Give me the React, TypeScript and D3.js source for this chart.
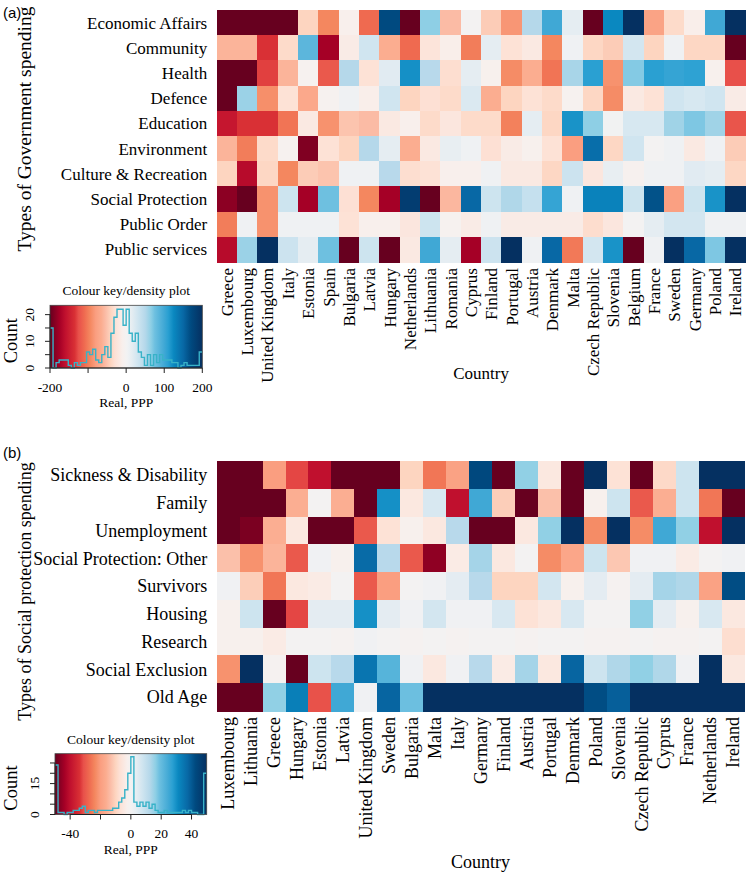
import React from "react";
import * as d3 from "d3";

// panel (a): government spending, values in real PPP (-200..200)
const govCategories = ["Economic Affairs", "Community", "Health", "Defence", "Education", "Environment", "Culture & Recreation", "Social Protection", "Public Order", "Public services"];
const govCountries = ["Greece", "Luxembourg", "United Kingdom", "Italy", "Estonia", "Spain", "Bulgaria", "Latvia", "Hungary", "Netherlands", "Lithuania", "Romania", "Cyprus", "Finland", "Portugal", "Austria", "Denmark", "Malta", "Czech Republic", "Slovenia", "Belgium", "France", "Sweden", "Germany", "Poland", "Ireland"];

const govEconomic = [-200, -200, -200, -200, -40, -95, -10, -110, 170, -200, 65, -55, 0, -45, -85, 50, 100, 15, -200, 125, 200, -75, -35, -12, 100, 200];
const govCommunity = [-60, -60, -135, -35, 85, -175, -15, 30, -65, -110, -25, -12, -100, 15, -28, -18, -95, 5, -38, -45, 28, -40, 5, -38, -38, -200];
const govHealth = [-200, -200, -130, -60, -5, -120, 50, -28, 18, 120, 48, -32, 15, -8, -92, -65, -105, 55, 110, -88, 68, 110, 105, 108, -8, -125];
const govDefence = [-200, 60, -90, -28, -70, -5, 5, -12, 30, -40, -30, -35, 22, -65, -40, -28, -35, -5, -38, -92, -18, -28, 30, 25, 30, -15];
const govEducation = [-155, -135, -135, -105, -18, -88, -50, -55, -18, -10, -35, -22, -35, -35, -98, 15, -38, 118, 65, 2, 25, 25, 58, 70, 58, -122];
const govEnvironment = [-60, -100, -35, -5, -190, -28, -40, 50, 15, -65, -18, 12, 5, -30, -15, -8, -28, -80, 145, -38, 30, 0, 5, -18, 5, -45];
const govCulture = [-40, -165, -38, -95, -45, -50, 5, 5, 48, -32, -28, -10, -10, 5, -18, -18, -38, 33, -22, 12, -6, 5, 5, 18, 15, -38];
const govSocial = [-185, -200, -88, 32, -175, 75, -30, -95, -175, 185, -200, -58, 150, 32, 52, 38, 105, 5, 130, 130, 32, 165, -78, 32, 118, 200];
const govOrder = [-100, 5, -88, 5, 5, 5, -28, -10, -10, -22, 32, -5, -15, 5, -15, -15, -15, -15, -33, -22, 0, 15, 28, 28, 5, 5];
const govServices = [-165, 60, 200, 33, 15, 75, -200, 32, -200, -18, 100, 15, -175, 33, 200, 5, 150, -102, 28, 118, -200, 5, 200, 150, 70, 200];

// histogram of panel (a) values, 50 bins over -200..200
const govKeyCounts = [15, 0, 2, 3, 3, 3, 1, 0, 2, 1, 2, 2, 6, 5, 7, 3, 2, 5, 8, 4, 13, 19, 22, 22, 16, 22, 13, 10, 13, 6, 4, 1, 5, 1, 5, 2, 5, 3, 3, 3, 2, 2, 0, 1, 2, 1, 1, 1, 1, 6];

// panel (b): social protection spending, values -50..50
const socCategories = ["Sickness & Disability", "Family", "Unemployment", "Social Protection: Other", "Survivors", "Housing", "Research", "Social Exclusion", "Old Age"];
const socCountries = ["Luxembourg", "Lithuania", "Greece", "Hungary", "Estonia", "Latvia", "United Kingdom", "Sweden", "Bulgaria", "Malta", "Italy", "Germany", "Finland", "Austria", "Portugal", "Denmark", "Poland", "Slovenia", "Czech Republic", "Cyprus", "France", "Netherlands", "Ireland"];

const socSickness = [-50, -50, -20, -32, -40, -50, -50, -50, -10, -26, -19, 43, -50, 16, -5, -50, 50, -7, -50, -9, 8, 50, 50];
const socFamily = [-50, -50, -50, -16, 0, -16, -50, 30, -5, 6, -40, 25, -11, -50, -13, -50, -2, 8, -30, -16, 8, -26, -50];
const socUnemployment = [-50, -48, -16, -5, -50, -50, -30, -7, -2, -5, 12, -50, -50, -5, 16, 50, -23, 50, -23, 25, 16, -40, 50];
const socOther = [-13, -22, -15, -30, 1, -2, 37, 12, -30, -46, -4, 14, -5, 0, -23, -18, 8, -12, 1, 1, -4, 0, 1];
const socSurvivors = [1, -11, -26, -5, -4, 0, -30, -20, 0, 1, 4, 12, -10, -10, 7, -2, 4, -1, 4, 14, 13, -19, 42];
const socHousing = [-2, 8, -50, -32, 4, 4, 30, 4, 1, 7, 1, 1, 6, -7, -5, 6, 0, 0, 16, 4, -2, 6, -5];
const socResearch = [-2, -2, -4, 0, 0, -1, 1, 0, -1, 0, -1, 0, 0, -1, 0, 0, -1, -1, 0, -1, -1, 0, -8];
const socExclusion = [-22, 50, -1, -50, 8, 12, 35, 22, 1, -5, 1, 12, -4, 14, -5, 38, 8, 13, 16, 13, 1, 50, -5];
const socOldAge = [-50, -50, 16, 33, -31, 25, 1, 38, 19, 50, 50, 50, 50, 50, 50, 50, 42, 39, 50, 50, 50, 50, 50];

// histogram of panel (b) values, 50 bins over -50..50
const socKeyCounts = [24, 1, 1, 0, 1, 1, 2, 2, 3, 4, 1, 2, 2, 1, 2, 2, 2, 2, 2, 3, 3, 6, 8, 12, 20, 28, 6, 4, 6, 4, 6, 3, 5, 2, 1, 1, 2, 1, 1, 1, 1, 1, 2, 1, 2, 1, 1, 0, 0, 20];

const govMatrix = [govEconomic, govCommunity, govHealth, govDefence, govEducation, govEnvironment, govCulture, govSocial, govOrder, govServices];
const socMatrix = [socSickness, socFamily, socUnemployment, socOther, socSurvivors, socHousing, socResearch, socExclusion, socOldAge];

// red - white - blue ramp, positions on 0..1
const rampStops = [0, 0.0625, 0.1, 0.1625, 0.1875, 0.225, 0.2625, 0.3, 0.3375, 0.3625, 0.4, 0.425, 0.475, 0.5, 0.5125, 0.5375, 0.575, 0.625, 0.6625, 0.6875, 0.75, 0.775, 0.8125, 0.875, 0.925, 1];
const rampColours = ["#67001f", "#a50026", "#c0102e", "#d93035", "#e8504a", "#ef6a50", "#f4875f", "#fa9e80", "#fbad90", "#fbbba5", "#fdd5c0", "#fde0d4", "#f8efec", "#f3f2f2", "#eff1f3", "#e5edf2", "#d0e5f0", "#b5d8ea", "#8ecfe5", "#6ec0e0", "#40a8d5", "#2aa0d2", "#0a88c0", "#0868a5", "#004a80", "#053061"];
const ramp = d3.scaleLinear<string>().domain(rampStops).range(rampColours).interpolate(d3.interpolateRgb).clamp(true);

const serif = "'Liberation Serif', 'Times New Roman', Times, serif";
const sans = "'Liberation Sans', Arial, Helvetica, sans-serif";
const histColour = "#38b2c8";

function Heatmap({ rows, cols, matrix, domain, box, font, title, titleSize, titleY, tag, tagY, countryY }) {
  const x = d3.scaleBand().domain(cols).range([box.x0, box.x1]);
  const y = d3.scaleBand().domain(rows).range([box.y0, box.y1]);
  const t = d3.scaleLinear().domain(domain).range([0, 1]).clamp(true);
  const bw = x.bandwidth();
  const bh = y.bandwidth();

  return (
    <g>
      <text x={3} y={tagY} fontFamily={sans} fontSize={15}>{tag}</text>
      {rows.map((r, i) =>
        cols.map((c, j) => (
          <rect key={r + c} x={x(c)} y={y(r)} width={bw + 0.6} height={bh + 0.6}
            fill={ramp(t(matrix[i][j]))} shapeRendering="crispEdges" />
        ))
      )}
      {rows.map(r => (
        <text key={r} x={box.x0 - 9.5} y={y(r) + bh / 2} dy="0.35em" textAnchor="end"
          fontFamily={serif} fontSize={font}>{r}</text>
      ))}
      {cols.map(c => (
        <text key={c} transform={`translate(${x(c) + bw / 2},${box.y1 + 6}) rotate(-90)`}
          dy="0.35em" textAnchor="end" fontFamily={serif} fontSize={font}>{c}</text>
      ))}
      <text transform={`translate(24.5,${titleY}) rotate(-90)`} dy="0.35em"
        textAnchor="middle" fontFamily={serif} fontSize={titleSize}>{title}</text>
      <text x={(box.x0 + box.x1) / 2} y={countryY} dy="0.35em" textAnchor="middle"
        fontFamily={serif} fontSize={font}>Country</text>
    </g>
  );
}

function ColourKey({ id, box, domain, counts, yMax, yTicks, yLabels, xTicks, xLabels, titleY, tickY, realY }) {
  const x = d3.scaleLinear().domain(domain).range([box.x0, box.x1]);
  const y = d3.scaleLinear().domain([0, yMax]).range([box.y1, box.y0]);
  const n = counts.length;
  const step = (domain[1] - domain[0]) / n;
  const pts = d3.range(n + 1).map(i => [x(domain[0] + i * step), y(counts[Math.min(i, n - 1)])]);
  const path = d3.line().curve(d3.curveStepAfter)(pts);
  const cx = (box.x0 + box.x1) / 2;

  return (
    <g>
      <defs>
        <linearGradient id={id} x1="0" x2="1" y1="0" y2="0">
          {rampStops.map((s, i) => (
            <stop key={s} offset={s} stopColor={rampColours[i]} />
          ))}
        </linearGradient>
      </defs>
      <text x={cx} y={titleY} dy="0.35em" textAnchor="middle" fontFamily={serif} fontSize={13.5}>
        Colour key/density plot
      </text>
      <rect x={box.x0} y={box.y0} width={box.x1 - box.x0} height={box.y1 - box.y0} fill={`url(#${id})`} />
      <path d={path} fill="none" stroke={histColour} strokeWidth={1.4} />
      <rect x={box.x0} y={box.y0} width={box.x1 - box.x0} height={box.y1 - box.y0} fill="none" stroke="#444" strokeWidth={0.8} />
      <line x1={box.x0} x2={box.x0} y1={y(yTicks[0])} y2={y(yTicks[yTicks.length - 1])} stroke="#222" />
      {yTicks.map(tk => (
        <line key={tk} x1={box.x0 - 5} x2={box.x0} y1={y(tk)} y2={y(tk)} stroke="#222" />
      ))}
      {yLabels.map(tk => (
        <text key={tk} transform={`translate(${box.x0 - 21},${y(tk)}) rotate(-90)`} dy="0.35em"
          textAnchor="middle" fontFamily={serif} fontSize={13.5}>{tk}</text>
      ))}
      <text transform={`translate(11,${(box.y0 + box.y1) / 2 + 4}) rotate(-90)`} dy="0.35em"
        textAnchor="middle" fontFamily={serif} fontSize={18.5}>Count</text>
      <line x1={x(xTicks[0])} x2={x(xTicks[xTicks.length - 1])} y1={box.y1} y2={box.y1} stroke="#222" />
      {xTicks.map(tk => (
        <line key={tk} x1={x(tk)} x2={x(tk)} y1={box.y1} y2={box.y1 + 5} stroke="#222" />
      ))}
      {xLabels.map(tk => (
        <text key={tk} x={x(tk)} y={tickY} dy="0.35em" textAnchor="middle" fontFamily={serif} fontSize={13.5}>
          {tk < 0 ? `-${Math.abs(tk)}` : tk}
        </text>
      ))}
      <text x={cx} y={realY} dy="0.35em" textAnchor="middle" fontFamily={serif} fontSize={13.5}>Real, PPP</text>
    </g>
  );
}

export default function App() {
  return (
    <svg width={750} height={875} style={{ position: "absolute", left: 0, top: 0, background: "#fff" }}>
      <rect width={750} height={875} fill="#fff" />
      <Heatmap rows={govCategories} cols={govCountries} matrix={govMatrix} domain={[-200, 200]}
        box={{ x0: 216.7, x1: 745.5, y0: 10, y1: 262 }} font={17}
        title="Types of Government spending" titleSize={19.5} titleY={129}
        tag="(a)" tagY={18} countryY={373} />
      <ColourKey id="keyA" box={{ x0: 50, x1: 202.3, y0: 305.3, y1: 368 }} domain={[-200, 200]}
        counts={govKeyCounts} yMax={23.5} yTicks={[0, 5, 10, 15, 20]} yLabels={[0, 10, 20]}
        xTicks={[-200, -100, 0, 100, 200]} xLabels={[-200, 0, 100, 200]}
        titleY={290} tickY={387} realY={402} />
      <Heatmap rows={socCategories} cols={socCountries} matrix={socMatrix} domain={[-50, 50]}
        box={{ x0: 216.7, x1: 744.5, y0: 461, y1: 711 }} font={18}
        title="Types of Social protection spending" titleSize={18} titleY={591.5}
        tag="(b)" tagY={457.5} countryY={862} />
      <ColourKey id="keyB" box={{ x0: 55, x1: 206.7, y0: 753.7, y1: 814.5 }} domain={[-50, 50]}
        counts={socKeyCounts} yMax={29.5} yTicks={[0, 5, 10, 15, 20, 25]} yLabels={[0, 15]}
        xTicks={[-40, -20, 0, 20, 40]} xLabels={[-40, 0, 20, 40]}
        titleY={739} tickY={833} realY={849} />
    </svg>
  );
}
